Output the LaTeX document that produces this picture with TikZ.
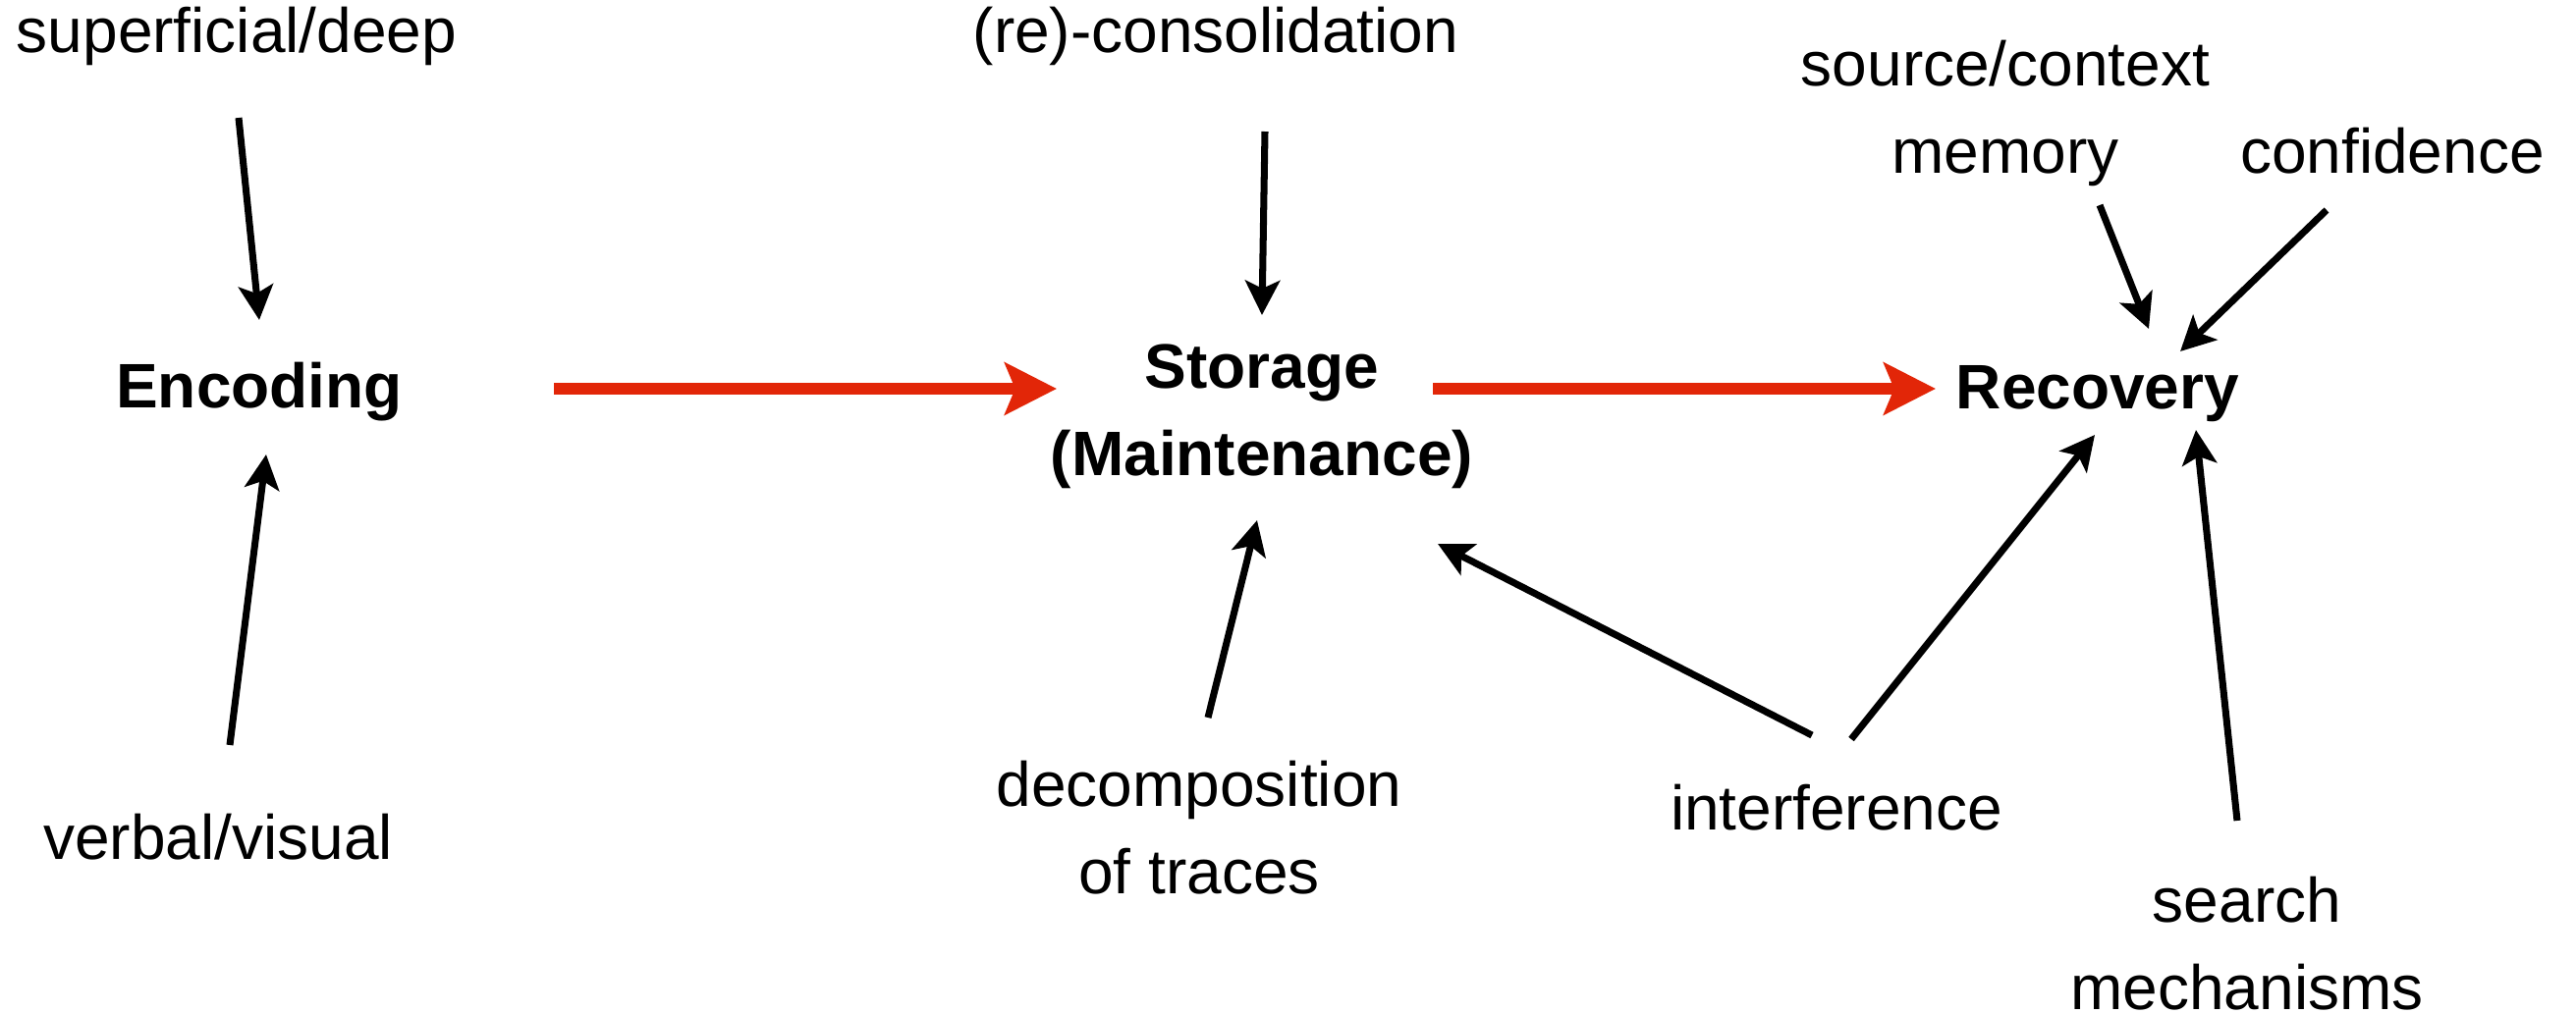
\documentclass[tikz,border=0pt]{standalone}
\usepackage{fontspec}
\setmainfont{Liberation Sans}
\usetikzlibrary{arrows.meta}
\definecolor{flowred}{RGB}{226,38,8}
\begin{document}
\begin{tikzpicture}[x=0.01cm,y=-0.01cm,
  every node/.style={font=\fontsize{18.2}{25.3}\selectfont, inner sep=0pt, align=center},
  stage/.style={font=\fontsize{18.2}{25.3}\selectfont\bfseries},
  infl/.style={line width=2pt, -{Stealth[length=10pt,width=10pt,inset=2.3pt]}},
  flow/.style={draw=flowred, line width=3.4pt, -{Stealth[length=15pt,width=15pt,inset=3pt,fill=flowred]}},
]
\useasboundingbox (0,0) rectangle (2623,1033);

% main stages
\node[stage] (enc) at (264,399) {Encoding};
\node[stage] (st)  at (1285,424) {Storage\\(Maintenance)};
\node[stage] (rec) at (2136,401) {Recovery};

% influencing factors
\node (sd)   at (241,37)   {superficial/deep};
\node (vv)   at (222,853)  {verbal/visual};
\node (rc)   at (1238,37)  {(re)-consolidation};
\node (dec)  at (1221,843) {decomposition\\of traces};
\node (sc)   at (2042,115) {source/context\\memory};
\node (conf) at (2436,154) {confidence};
\node (intf) at (1870,823) {interference};
\node (srch) at (2288,961) {search\\mechanisms};

% main flow
\draw[flow] ([shift={(300,-3)}]enc.center) -- ([shift={(-209,-28)}]st.center);
\draw[flow] ([shift={(174,-28)}]st.center) -- ([shift={(-165,-5)}]rec.center);

% influences
\draw[infl] ([shift={(2,83)}]sd.center)    -- ([shift={(0,-73)}]enc.center);
\draw[infl] ([shift={(12,-94)}]vv.center)  -- ([shift={(7,64)}]enc.center);
\draw[infl] ([shift={(50,97)}]rc.center)   -- ([shift={(0,-103)}]st.center);
\draw[infl] ([shift={(9,-112)}]dec.center) -- ([shift={(-5,106)}]st.center);
\draw[infl] ([shift={(-25,-74)}]intf.center) -- ([shift={(179,130)}]st.center);
\draw[infl] ([shift={(15,-70)}]intf.center)  -- ([shift={(-3,42)}]rec.center);
\draw[infl] ([shift={(96,94)}]sc.center)   -- ([shift={(52,-66)}]rec.center);
\draw[infl] ([shift={(-67,60)}]conf.center) -- ([shift={(84,-43)}]rec.center);
\draw[infl] ([shift={(-10,-125)}]srch.center) -- ([shift={(100,37)}]rec.center);
\end{tikzpicture}
\end{document}
